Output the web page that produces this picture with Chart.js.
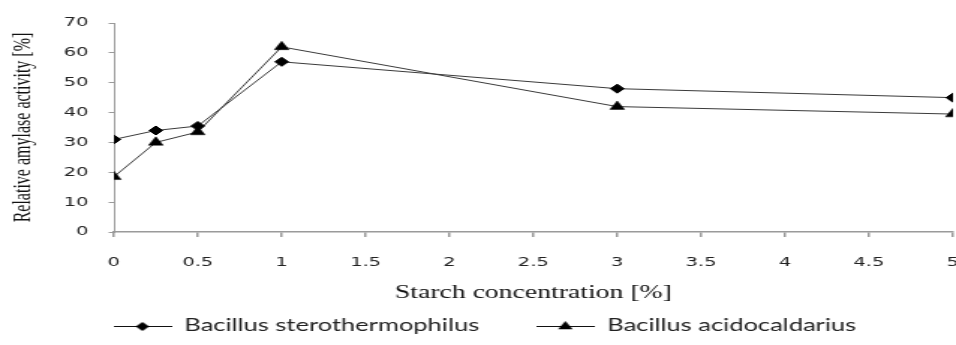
<!DOCTYPE html>
<html>
<head>
<meta charset="utf-8">
<script src="https://cdn.jsdelivr.net/npm/chart.js@4/dist/chart.umd.min.js"></script>
<style>
  html, body { margin: 0; padding: 0; background: #fff; overflow: hidden; width: 956px; height: 345px; }
  /* the chart is laid out narrow and widened horizontally */
  #wrap { position: absolute; left: 0; top: 0; width: 642px; height: 345px;
          transform: scaleX(1.4984); transform-origin: 0 0; }
</style>
</head>
<body>
<div id="wrap"><canvas id="chart" width="642" height="345"></canvas></div>
<script>
// Starch concentration [%]
const concentration = [0, 0.25, 0.5, 1, 3, 5];
// Relative amylase activity [%]
const stearothermophilus = [31, 34, 35.5, 57, 48, 45];
const acidocaldarius = [18.5, 30, 33.5, 62, 42, 39.5];
const seriesNames = ['Bacillus sterothermophilus', 'Bacillus acidocaldarius'];
const xTitle = 'Starch concentration [%]';
const yTitle = 'Relative amylase activity [%]';

const MARK = { rectRot: 4.5, triangle: 5.6 };

function toPoints(ys) {
  return concentration.map((x, i) => ({ x, y: ys[i] }));
}

// small line-with-marker glyph for the legend
function legendGlyph(style) {
  const c = document.createElement('canvas');
  c.width = 39; c.height = 14;
  const g = c.getContext('2d');
  g.strokeStyle = '#111';
  g.fillStyle = '#000';
  g.lineWidth = 1;
  g.beginPath(); g.moveTo(0, 7.5); g.lineTo(39, 7.5); g.stroke();
  Chart.helpers.drawPoint(g, { pointStyle: style, radius: MARK[style], borderWidth: 0, rotation: 0 }, 19.5, 7.5);
  return c;
}

const styles = ['rectRot', 'triangle'];

new Chart(document.getElementById('chart'), {
  type: 'scatter',
  data: {
    datasets: [
      {
        label: seriesNames[0],
        data: toPoints(stearothermophilus),
        showLine: true,
        borderColor: '#3a3a3a',
        borderWidth: 1,
        pointStyle: 'rectRot',
        pointRadius: MARK.rectRot,
        pointBackgroundColor: '#000',
        pointBorderColor: '#000',
        pointBorderWidth: 1,
        tension: 0
      },
      {
        label: seriesNames[1],
        data: toPoints(acidocaldarius),
        showLine: true,
        borderColor: '#3a3a3a',
        borderWidth: 1,
        pointStyle: 'triangle',
        pointRadius: MARK.triangle,
        pointBackgroundColor: '#000',
        pointBorderColor: '#000',
        pointBorderWidth: 0.5,
        tension: 0
      }
    ]
  },
  options: {
    responsive: false,
    animation: false,
    devicePixelRatio: 1,
    layout: { padding: { left: 5, right: 0, top: 23, bottom: 0.5 } },
    plugins: {
      tooltip: { enabled: false },
      legend: {
        position: 'bottom',
        labels: {
          usePointStyle: true,
          pointStyleWidth: 39,
          padding: 38,
          color: '#222',
          font: { family: 'Lato', size: 17 },
          generateLabels: (chart) => chart.data.datasets.map((ds, i) => ({
            text: ds.label,
            pointStyle: legendGlyph(styles[i]),
            fillStyle: '#000',
            strokeStyle: '#000',
            lineWidth: 0,
            fontColor: '#222',
            datasetIndex: i,
            hidden: false
          }))
        }
      }
    },
    scales: {
      x: {
        type: 'linear',
        min: 0,
        max: 5,
        afterFit: (s) => { s.height = 47.5; s.paddingLeft = 0; s.paddingRight = 0; },
        ticks: {
          stepSize: 0.5,
          padding: 18,
          color: '#222',
          font: { family: 'DejaVu Sans', size: 13 },
          callback: (v) => String(v)
        },
        grid: { display: true, drawOnChartArea: false, drawTicks: true, tickLength: 5, color: '#9a9a9a', lineWidth: 1.5 },
        border: { display: true, color: '#9a9a9a', width: 1.5 },
        title: {
          display: true,
          text: xTitle,
          color: '#111',
          font: { family: 'Liberation Serif', size: 18.5 },
          padding: { top: 15, bottom: -25 }
        }
      },
      y: {
        type: 'linear',
        min: 0,
        max: 70,
        afterFit: (s) => { s.width = 71; s.paddingTop = 0; s.paddingBottom = 0; },
        ticks: {
          stepSize: 10,
          padding: 13.5,
          color: '#222',
          font: { family: 'DejaVu Sans', size: 13 }
        },
        grid: { display: true, drawOnChartArea: false, drawTicks: true, tickLength: 3.5, color: '#9a9a9a', lineWidth: 1 },
        border: { display: true, color: '#9a9a9a', width: 1 },
        title: {
          display: true,
          text: yTitle,
          color: '#111',
          font: { family: 'Liberation Serif', size: 16 },
          padding: { top: 1.5, bottom: 0 }
        }
      }
    }
  }
});
</script>
</body>
</html>
